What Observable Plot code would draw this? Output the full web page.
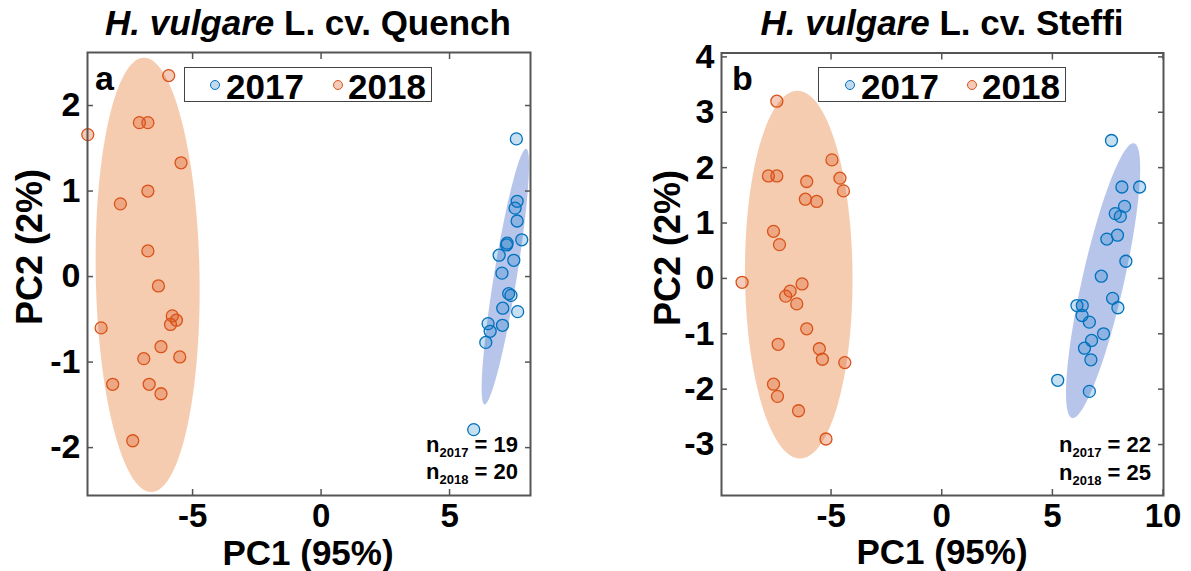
<!DOCTYPE html>
<html><head><meta charset="utf-8">
<script src="https://cdn.jsdelivr.net/npm/d3@7"></script>
<script src="https://cdn.jsdelivr.net/npm/@observablehq/plot@0.6"></script>
<style>
body{margin:0;background:#fff;}
#wrap{position:relative;width:1191px;height:571px;overflow:hidden;font-family:"Liberation Sans",Arial,sans-serif;font-weight:bold;color:#000;}
.panel{position:absolute;top:0;}
.abs{position:absolute;white-space:nowrap;line-height:1;}
.title{font-size:35px;transform:translateX(-50%);}
.xlab{font-size:35px;line-height:0.75;transform:translateX(-50%);}
.ylab{font-size:36px;line-height:0.8;transform:translate(-50%,-50%) rotate(-90deg);}
.legend{border:1.5px solid #444;background:#fff;box-sizing:border-box;}
.mk{position:absolute;width:10px;height:10px;border-radius:50%;box-sizing:border-box;border:1.3px solid;}
.lt{font-size:35px;line-height:0.8;}
.letter{font-size:34px;}
.ann{font-size:22px;text-align:right;transform:translateX(-100%);}
.ann sub{font-size:13px;vertical-align:-5px;line-height:0;}
</style></head>
<body><div id="wrap"></div>
<script>
// ---- data ----
const quench2017X = [7.60,7.63,7.55,7.63,7.81,7.24,7.22,6.93,7.50,7.04,7.30,7.39,7.65,7.07,6.50,6.58,7.06,6.41,5.94];
const quench2017Y = [1.61,0.88,0.80,0.65,0.43,0.39,0.37,0.25,0.19,0.04,-0.20,-0.22,-0.41,-0.37,-0.55,-0.64,-0.57,-0.77,-1.79];
const quench2018X = [-5.93,-7.07,-6.74,-9.08,-5.45,-6.74,-7.81,-6.74,-6.33,-5.79,-5.63,-5.86,-8.56,-6.23,-6.90,-5.50,-8.11,-6.69,-6.23,-7.33];
const quench2018Y = [2.35,1.80,1.80,1.66,1.33,1.00,0.85,0.30,-0.11,-0.46,-0.51,-0.56,-0.60,-0.82,-0.96,-0.94,-1.26,-1.26,-1.37,-1.92];
const steffi2017X = [7.67,8.14,8.94,8.26,7.84,8.07,7.94,7.46,8.32,7.21,7.72,7.96,6.11,6.35,6.34,6.67,7.31,6.77,6.45,6.74,5.24,6.67];
const steffi2017Y = [2.49,1.65,1.65,1.30,1.17,1.12,0.78,0.71,0.31,0.04,-0.36,-0.53,-0.49,-0.49,-0.67,-0.79,-1.00,-1.12,-1.26,-1.47,-1.84,-2.04];
const steffi2018X = [-7.45,-4.96,-7.83,-7.45,-4.60,-6.10,-4.44,-6.16,-5.65,-7.60,-7.33,-9.02,-6.31,-6.85,-7.05,-6.55,-6.10,-7.39,-5.53,-5.39,-4.38,-7.60,-7.42,-6.47,-5.23];
const steffi2018Y = [3.20,2.14,1.85,1.85,1.81,1.75,1.58,1.43,1.39,0.85,0.61,-0.07,-0.10,-0.23,-0.32,-0.46,-0.91,-1.19,-1.27,-1.46,-1.52,-1.91,-2.13,-2.39,-2.90];
// ellipse: center x, center y, semi-diameter A (x,y), semi-diameter B (x,y)
const quench2017Ellipse = [7.17, 0.00, 0.81, 1.495, 0.44, -0.02];
const quench2018Ellipse = [-6.75, 0.02, -0.14, 2.54, 2.02, 0.0];
const steffi2017Ellipse = [7.29, -0.04, 1.40, 2.48, 0.92, -0.08];
const steffi2018Ellipse = [-6.46, 0.07, -0.06, 3.32, 2.43, 0.0];
const quenchXTicks = [-5, 0, 5];
const quenchYTicks = [-2, -1, 0, 1, 2];
const steffiXTicks = [-5, 0, 5, 10];
const steffiYTicks = [-3, -2, -1, 0, 1, 2, 3, 4];
const quenchN = {n2017: 19, n2018: 20};
const steffiN = {n2017: 22, n2018: 25};
const years = ["2017", "2018"];

const BLUE = "#0072BD", ORANGE = "#D95319";
const AXC = "#555";

function pts(xs, ys) { return xs.map((x, i) => ({x, y: ys[i]})); }
function ell(p) {
  const [cx, cy, ax, ay, bx, by] = p;
  return d3.range(0, 361, 3).map(d => {
    const t = d * Math.PI / 180;
    return {x: cx + ax * Math.cos(t) + bx * Math.sin(t), y: cy + ay * Math.cos(t) + by * Math.sin(t)};
  });
}

function panel(o) {
  const fmt = d => String(d);
  const blank = () => "";
  return Plot.plot({
    width: o.width, height: 571,
    marginLeft: o.ml, marginRight: o.mr, marginTop: o.mt, marginBottom: 76,
    x: {domain: o.xd}, y: {domain: o.yd},
    style: {fontFamily: '"Liberation Sans", Arial, sans-serif', fontWeight: "bold", color: "#000", background: "transparent", overflow: "visible"},
    marks: [
      Plot.line(ell(o.e18), {x: "x", y: "y", fill: "#E8803D", fillOpacity: 0.4, stroke: "none"}),
      Plot.line(ell(o.e17), {x: "x", y: "y", fill: "#3D63C9", fillOpacity: 0.37, stroke: "none"}),
      Plot.dot(pts(o.x18, o.y18), {x: "x", y: "y", r: 6, stroke: ORANGE, fill: ORANGE, fillOpacity: 0.3, strokeWidth: 1.3}),
      Plot.dot(pts(o.x17, o.y17), {x: "x", y: "y", r: 6, stroke: BLUE, fill: BLUE, fillOpacity: 0.22, strokeWidth: 1.3}),
      Plot.axisX({ticks: o.xt, tickSize: 0, tickPadding: 8, fontSize: 33, tickFormat: fmt, label: null}),
      Plot.axisY({ticks: o.yt, tickSize: 0, tickPadding: 7, fontSize: 34, tickFormat: fmt, label: null}),
      Plot.axisX({ticks: o.xt, anchor: "bottom", tickSize: 6, dy: -6, tickFormat: blank, label: null, stroke: AXC, strokeWidth: 1.5}),
      Plot.axisX({ticks: o.xt, anchor: "top", tickSize: 6, dy: 6, tickFormat: blank, label: null, stroke: AXC, strokeWidth: 1.5}),
      Plot.axisY({ticks: o.yt, anchor: "left", tickSize: 6, dx: 6, tickFormat: blank, label: null, stroke: AXC, strokeWidth: 1.5}),
      Plot.axisY({ticks: o.yt, anchor: "right", tickSize: 6, dx: -6, tickFormat: blank, label: null, stroke: AXC, strokeWidth: 1.5}),
      Plot.frame({stroke: AXC, strokeWidth: 2})
    ]
  });
}

const wrap = document.getElementById("wrap");
const left = panel({width: 595, ml: 87, mr: 65, mt: 52, xd: [-9.09, 8.15], yd: [-2.56, 2.62], xt: quenchXTicks, yt: quenchYTicks,
  x17: quench2017X, y17: quench2017Y, x18: quench2018X, y18: quench2018Y, e17: quench2017Ellipse, e18: quench2018Ellipse});
left.classList.add("panel"); left.style.left = "0px";
wrap.appendChild(left);
const right = panel({width: 596, ml: 126, mr: 28, mt: 52.5, xd: [-9.95, 10.02], yd: [-3.92, 4.07], xt: steffiXTicks, yt: steffiYTicks,
  x17: steffi2017X, y17: steffi2017Y, x18: steffi2018X, y18: steffi2018Y, e17: steffi2017Ellipse, e18: steffi2018Ellipse});
right.classList.add("panel"); right.style.left = "595px";
wrap.appendChild(right);

function add(html, cls, x, y, extra) {
  const d = document.createElement("div");
  d.className = "abs " + cls;
  d.style.left = x + "px"; d.style.top = y + "px";
  if (extra) Object.assign(d.style, extra);
  d.innerHTML = html;
  wrap.appendChild(d);
  return d;
}
// titles
add("<i>H. vulgare</i> L. cv. Quench", "title", 308, 5);
add("<i>H. vulgare</i> L. cv. Steffi", "title", 942, 5);
// axis labels
add("PC1 (95%)", "xlab", 308, 540);
add("PC1 (95%)", "xlab", 942, 539);
add("PC2 (2%)", "ylab", 30, 247);
add("PC2 (2%)", "ylab", 668, 248);
// panel letters
add("a", "letter", 95, 61);
add("b", "letter", 732, 61);
// legends
function legend(x0, y0, w, items) {
  add("", "legend", x0, y0, {width: w + "px", height: "35px"});
  items.forEach(it => {
    const m = document.createElement("div");
    m.className = "mk";
    m.style.left = (it.mx - 5) + "px"; m.style.top = (y0 + 13) + "px";
    m.style.borderColor = it.c; m.style.background = it.f;
    wrap.appendChild(m);
    add(it.t, "lt", it.tx, y0 + 6);
  });
}
legend(184, 67, 248, [
  {t: years[0], mx: 215, tx: 226, c: BLUE, f: "#C2D9EF"},
  {t: years[1], mx: 338, tx: 348, c: ORANGE, f: "#F4CBBA"}
]);
legend(818, 67, 248, [
  {t: years[0], mx: 850, tx: 861, c: BLUE, f: "#C2D9EF"},
  {t: years[1], mx: 972, tx: 982, c: ORANGE, f: "#F4CBBA"}
]);
// n annotations
function ann(xr, y, yr, n) { add(`n<sub>${yr}</sub> = ${n}`, "ann", xr, y); }
ann(518, 434, years[0], quenchN.n2017);
ann(518, 461, years[1], quenchN.n2018);
ann(1151, 434, years[0], steffiN.n2017);
ann(1151, 462, years[1], steffiN.n2018);
</script></body></html>
